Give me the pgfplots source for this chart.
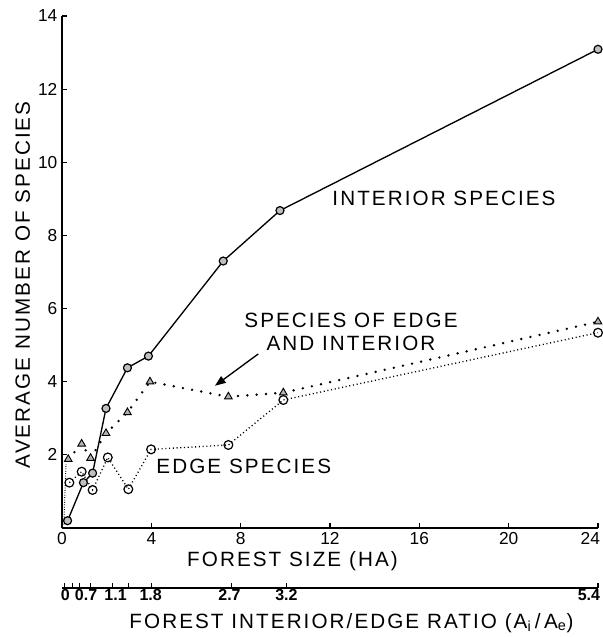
\documentclass[border=0pt]{standalone}
\usepackage{fontspec}
\setmainfont{Liberation Sans}
\newfontfamily\lbl[LetterSpace=10]{Liberation Sans}
\usepackage{pgfplots}
\pgfplotsset{compat=1.18}
\usetikzlibrary{arrows.meta}
\newcommand\lblfont{\lbl\fontsize{15.5}{17.25}\selectfont}

\pgfplotstableread{
x y
0.25 0.20
0.96 1.24
1.37 1.50
1.97 3.27
2.93 4.38
3.87 4.70
7.22 7.30
9.76 8.68
24.0 13.09
}\interior

\pgfplotstableread{
x y
0.28 1.88
0.88 2.30
1.28 1.91
1.97 2.59
2.93 3.16
3.94 4.00
7.45 3.59
9.91 3.70
24.0 5.64
}\edgeint

\pgfplotstableread{
x y
0.33 1.24
0.88 1.54
1.37 1.04
2.05 1.93
2.97 1.06
3.99 2.15
7.45 2.27
9.91 3.50
24.0 5.34
}\edge

\begin{document}
\begin{tikzpicture}
\useasboundingbox (0pt,0pt) rectangle (452.25pt,477.75pt);
\begin{axis}[
  at={(46.5pt,81.75pt)}, anchor=south west,
  width=402pt, height=384pt, scale only axis,
  xmin=0, xmax=24, ymin=0, ymax=14,
  axis lines=left, axis line style={-, line width=1pt},
  xtick={0,4,...,24}, ytick={2,4,...,14},
  xticklabels={0,4,8,12,16,20,\makebox[3pt][r]{24}},
  tick align=inside, major tick length=4pt,
  tick style={black, line width=0.9pt},
  /pgf/number format/assume math mode=true,
  tick label style={font=\fontsize{13}{13}\selectfont},
  xlabel={\lblfont FOREST SIZE (HA)},
  xlabel style={at={(axis description cs:0.43,-0.064)}, anchor=center},
  ylabel={\lblfont AVERAGE NUMBER OF SPECIES},
  ylabel style={at={(axis description cs:-0.073,0.475)}, anchor=center},
  clip=false,
]
% faint hatch along axis
\addplot[black, line width=0.8pt, dash pattern=on 0.6pt off 1.2pt] coordinates {(0.08,0.1) (0.18,1.75)};
\addplot[black, line width=1pt, dash pattern=on 0.8pt off 2pt, mark=o, mark size=3.3pt, mark options={solid, line width=0.9pt}] table {\edge};
\addplot[black, line width=2pt, line cap=round, dash pattern=on 0pt off 7pt, mark=triangle*, mark size=3.3pt, mark options={solid, fill=gray!60, line width=0.7pt}] table {\edgeint};
\addplot[black, line width=1pt, mark=*, mark size=3pt, mark options={solid, fill=gray!50, line width=0.9pt}] table {\interior};

\node[anchor=west, font=\lblfont] at (axis cs:11.9,9.02) {INTERIOR SPECIES};
\node[align=center, font=\lblfont] at (axis cs:12.94,5.37) {SPECIES OF EDGE\\AND INTERIOR};
\node[anchor=west, font=\lblfont] at (axis cs:4.02,1.68) {EDGE SPECIES};
\draw[line width=1pt, -{Triangle[length=8pt,width=6pt]}] (axis cs:8.79,4.76) -- (axis cs:6.85,3.89);
\end{axis}

\begin{axis}[
  at={(46.5pt,36.75pt)}, anchor=south west,
  width=402pt, height=20pt, scale only axis,
  xmin=0, xmax=24, ymin=0, ymax=1,
  axis x line=bottom, axis y line=none,
  axis line style={-, line width=1pt},
  xtick={0.1,0.47,0.78,1.28,2.27,2.98,4,7.6,10.05,24},
  xticklabels={},
  extra x ticks={0.15,1.08,2.4,3.97,7.5,10.05,24},
  extra x tick labels={0,0.7,1.1,1.8,2.7,3.2,\makebox[3pt][r]{5.4}},
  extra x tick style={major tick length=0pt, tick label style={font=\bfseries\fontsize{12}{12}\selectfont, inner sep=1pt}},
  tick align=inside, major tick length=4pt,
  tick style={black, line width=0.9pt},
  /pgf/number format/assume math mode=true,
  xlabel={\lblfont FOREST INTERIOR/EDGE RATIO (A\textsubscript{i}\,/\,A\textsubscript{e})},
  xlabel style={at={(axis description cs:0.54,0)}, anchor=center, yshift=-26pt},
]
\addplot[draw=none] coordinates {(0,0.5)};
\end{axis}
\end{tikzpicture}
\end{document}
